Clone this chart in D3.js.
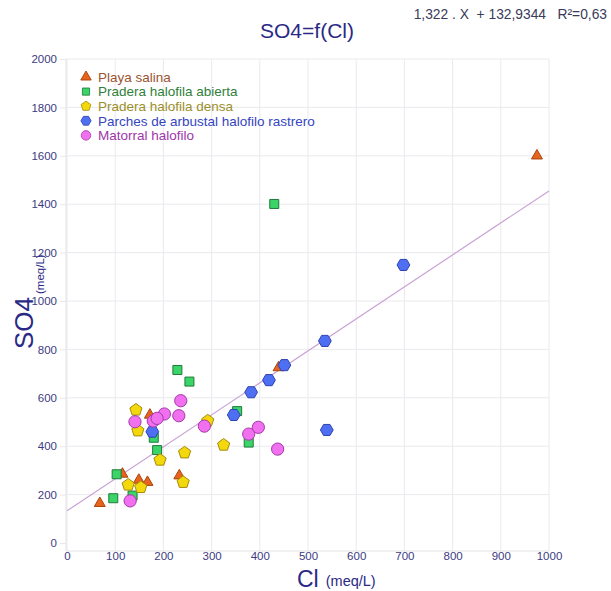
<!DOCTYPE html>
<html>
<head>
<meta charset="utf-8">
<script src="https://cdn.jsdelivr.net/npm/d3@7"></script>
<style>
  html, body { margin: 0; padding: 0; background: #fff; }
  svg { display: block; font-family: "Liberation Sans", Arial, sans-serif; }
</style>
</head>
<body>
<svg id="chart" width="611" height="591"></svg>
<script>
// Cl vs SO4 (meq/L) by vegetation unit
const seriesNames = [
  "Playa salina",
  "Pradera halofila abierta",
  "Pradera halofila densa",
  "Parches de arbustal halofilo rastrero",
  "Matorral halofilo"
];

const playaCl  = [68, 115, 149, 167, 172, 233, 439, 975];
const playaSO4 = [164, 285, 260, 251, 529, 278, 725, 1600];

const abiertaCl  = [229, 254, 353, 180, 187, 377, 103, 136, 96, 430];
const abiertaSO4 = [715, 667, 545, 435, 384, 415, 284, 196, 185, 1401];

const densaCl  = [143, 147, 193, 244, 292, 325, 127, 153, 241];
const densaSO4 = [550, 464, 343, 373, 505, 405, 240, 230, 251];

const parchesCl  = [451, 419, 382, 346, 177, 535, 698, 539];
const parchesSO4 = [735, 673, 623, 529, 460, 835, 1149, 467];

const matorralCl  = [236, 202, 232, 141, 179, 187, 285, 377, 397, 437, 131];
const matorralSO4 = [588, 533, 526, 501, 504, 515, 483, 450, 478, 388, 174];

// Linear fit SO4 = slope * Cl + intercept
const slope = 1.322;
const intercept = 132.9344;
const equationLabel = "1,322 . X  + 132,9344   R²=0,63";

const xTicks = [0, 100, 200, 300, 400, 500, 600, 700, 800, 900, 1000];
const yTicks = [0, 200, 400, 600, 800, 1000, 1200, 1400, 1600, 1800, 2000];

const svg = d3.select("#chart");

const x = d3.scaleLinear().domain([0, 1000]).range([67, 549]);
const y = d3.scaleLinear().domain([0, 2000]).range([543, 59]);
const plotBottom = 551;

const navy = "#2a2a86";
const tickColor = "#3c3c82";
const gridColor = "#eaeaef";

// grid
const grid = svg.append("g");
grid.selectAll("line.v").data(xTicks).join("line")
  .attr("x1", d => x(d)).attr("x2", d => x(d))
  .attr("y1", y(2000)).attr("y2", plotBottom)
  .attr("stroke", gridColor).attr("stroke-width", 1);
grid.selectAll("line.h").data(yTicks.filter(d => d > 0)).join("line")
  .attr("x1", 66).attr("x2", x(1000))
  .attr("y1", d => y(d)).attr("y2", d => y(d))
  .attr("stroke", gridColor).attr("stroke-width", 1);

// axis frame lines
svg.append("line").attr("x1", 66).attr("x2", 66).attr("y1", y(2000)).attr("y2", plotBottom)
  .attr("stroke", "#e2e2e8");
svg.append("line").attr("x1", 66).attr("x2", x(1000)).attr("y1", plotBottom).attr("y2", plotBottom)
  .attr("stroke", "#e2e2e8");

// y axis ticks and labels
const yAxis = d3.axisLeft(y).tickValues(yTicks).tickSize(6).tickPadding(3).tickFormat(d3.format("d"));
const gy = svg.append("g").attr("transform", "translate(66,0)").call(yAxis);
gy.select(".domain").remove();
gy.selectAll(".tick line").attr("stroke", "#f0e4e8");
gy.selectAll(".tick text").attr("fill", tickColor).attr("font-size", 11.5)
  .attr("font-family", "Liberation Sans, Arial, sans-serif");

// x axis labels
const xAxis = d3.axisBottom(x).tickValues(xTicks).tickSize(0).tickPadding(0).tickFormat(d3.format("d"));
const gx = svg.append("g").attr("transform", `translate(0,${plotBottom - 2})`).call(xAxis);
gx.select(".domain").remove();
gx.selectAll(".tick text").attr("fill", tickColor).attr("font-size", 11.5)
  .attr("dy", "0.95em").attr("font-family", "Liberation Sans, Arial, sans-serif");

// regression line
svg.append("line")
  .attr("x1", x(0)).attr("y1", y(intercept))
  .attr("x2", x(1000)).attr("y2", y(slope * 1000 + intercept))
  .attr("stroke", "#c9a2d4").attr("stroke-width", 1.2);

// marker shapes
function polygonPath(n, r, rot) {
  const pts = d3.range(n).map(i => {
    const a = rot + i * 2 * Math.PI / n;
    return [r * Math.cos(a), r * Math.sin(a)];
  });
  return "M" + pts.map(p => p.join(",")).join("L") + "Z";
}
const shapes = {
  triangle: d3.symbol().type(d3.symbolTriangle).size(52)(),
  square: "M-4.5,-4.5H4.5V4.5H-4.5Z",
  pentagon: polygonPath(5, 6.4, -Math.PI / 2),
  hexagon: polygonPath(6, 6.4, 0),
  circle: d3.symbol().type(d3.symbolCircle).size(118)()
};

const series = [
  { name: seriesNames[0], cl: playaCl, so4: playaSO4, shape: "triangle", fill: "#e8641c", stroke: "#a8440e", text: "#9a5533" },
  { name: seriesNames[1], cl: abiertaCl, so4: abiertaSO4, shape: "square", fill: "#3ad468", stroke: "#1f7a3a", text: "#2f7f3a" },
  { name: seriesNames[2], cl: densaCl, so4: densaSO4, shape: "pentagon", fill: "#f3d80c", stroke: "#a48c0a", text: "#9c8f2a" },
  { name: seriesNames[3], cl: parchesCl, so4: parchesSO4, shape: "hexagon", fill: "#4f6ff2", stroke: "#2d43b4", text: "#3545c0" },
  { name: seriesNames[4], cl: matorralCl, so4: matorralSO4, shape: "circle", fill: "#f070f0", stroke: "#a53aa8", text: "#a035a8" }
];

const marks = svg.append("g");
series.forEach(s => {
  const pts = s.cl.map((c, i) => ({ c, v: s.so4[i] }));
  marks.append("g").selectAll("path").data(pts).join("path")
    .attr("d", shapes[s.shape])
    .attr("transform", d => `translate(${x(d.c)},${y(d.v)})`)
    .attr("fill", s.fill).attr("stroke", s.stroke).attr("stroke-width", 1);
});

// legend
const legend = svg.append("g");
series.forEach((s, i) => {
  const ly = 77 + i * 14.6;
  const sc = s.shape === "circle" ? 0.78 : (s.shape === "triangle" ? 0.95 : 0.8);
  legend.append("path").attr("d", shapes[s.shape])
    .attr("transform", `translate(86,${ly}) scale(${sc})`)
    .attr("fill", s.fill).attr("stroke", s.stroke).attr("stroke-width", 1);
  legend.append("text").attr("x", 98).attr("y", ly).attr("dy", "0.36em")
    .attr("font-size", 13.5).attr("fill", s.text).text(s.name);
});

// titles
svg.append("text").attr("x", 307).attr("y", 38).attr("text-anchor", "middle")
  .attr("font-size", 21).attr("fill", navy).text("SO4=f(Cl)");

svg.append("text").attr("x", 607).attr("y", 19).attr("text-anchor", "end")
  .attr("font-size", 13.8).attr("fill", "#3a3a5a").style("white-space", "pre")
  .text(equationLabel);

const xt = svg.append("text").attr("x", 297).attr("y", 587).attr("fill", navy);
xt.append("tspan").attr("font-size", 23).text("Cl");
xt.append("tspan").attr("font-size", 14.5).attr("dx", 7).attr("dy", -1).text("(meq/L)");

const yt = svg.append("text").attr("transform", "translate(33,349) rotate(-90)").attr("fill", navy);
yt.append("tspan").attr("font-size", 26).text("SO4");
yt.append("tspan").attr("font-size", 11.5).attr("dx", 3).attr("dy", 11).text("(meq/L)");
</script>
</body>
</html>
